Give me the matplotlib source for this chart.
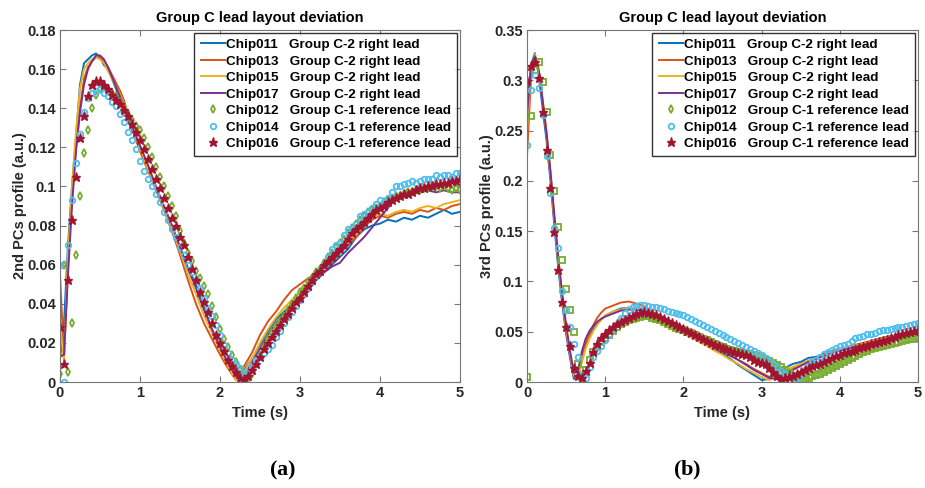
import numpy as np
import matplotlib
matplotlib.use("Agg")
import matplotlib.pyplot as plt
from matplotlib.lines import Line2D
from matplotlib.ticker import FuncFormatter

plt.rcParams['font.family'] = ['Liberation Sans', 'DejaVu Sans']
plt.rcParams['font.weight'] = 'bold'
plt.rcParams['mathtext.fontset'] = 'custom'
plt.rcParams['mathtext.rm'] = 'Liberation Serif'
plt.rcParams['mathtext.bf'] = 'Liberation Serif:bold'

# time bases (s): lines are sampled finer in the first second
t_line = np.round(np.concatenate([np.arange(0, 1.0001, 0.05), np.arange(1.1, 5.0001, 0.1)]), 2)
t_mark = np.round(np.arange(0, 5.0001, 0.05), 2)

labels = ['Chip011   Group C-2 right lead',
          'Chip013   Group C-2 right lead',
          'Chip015   Group C-2 right lead',
          'Chip017   Group C-2 right lead',
          'Chip012   Group C-1 reference lead',
          'Chip014   Group C-1 reference lead',
          'Chip016   Group C-1 reference lead']

c_blue = '#0072BD'
c_orange = '#D95319'
c_yellow = '#EDB120'
c_purple = '#7E2F8E'
c_green = '#77AC30'
c_cyan = '#4DBEEE'
c_red = '#A2142F'

########
## (a) 2nd PCs

a_chip011 = [0.012,0.030,0.070,0.100,0.125,0.152,0.163,0.165,0.167,0.168,0.166,
             0.162,0.160,0.155,0.150,0.144,0.139,0.134,0.129,0.124,0.119,
             0.109,0.099,0.089,0.079,0.068,0.058,0.050,0.038,0.027,0.018,
             0.009,0.002,0.006,0.012,0.019,0.026,0.032,0.036,0.040,0.044,
             0.048,0.052,0.056,0.060,0.064,0.068,0.074,0.078,0.080,0.081,
             0.083,0.082,0.084,0.083,0.085,0.084,0.086,0.088,0.086,0.087]
a_chip013 = [0.055,0.012,0.060,0.095,0.120,0.140,0.155,0.161,0.164,0.166,0.166,
             0.164,0.161,0.157,0.153,0.149,0.144,0.137,0.130,0.124,0.118,
             0.108,0.098,0.088,0.077,0.065,0.052,0.040,0.030,0.022,0.014,
             0.007,0.001,0.008,0.015,0.024,0.031,0.036,0.042,0.047,0.050,
             0.053,0.055,0.058,0.061,0.066,0.070,0.074,0.079,0.083,0.085,
             0.084,0.086,0.087,0.086,0.088,0.087,0.089,0.088,0.090,0.091]
a_chip015 = [0.030,0.010,0.065,0.100,0.128,0.150,0.160,0.163,0.165,0.166,0.165,
             0.163,0.159,0.155,0.151,0.147,0.142,0.136,0.130,0.125,0.120,
             0.109,0.099,0.089,0.078,0.067,0.055,0.045,0.034,0.025,0.016,
             0.008,0.001,0.005,0.012,0.020,0.027,0.033,0.038,0.042,0.046,
             0.050,0.054,0.058,0.062,0.067,0.071,0.076,0.081,0.084,0.086,
             0.085,0.087,0.088,0.087,0.089,0.090,0.089,0.091,0.092,0.093]
a_chip017 = [0.013,0.014,0.055,0.090,0.118,0.138,0.152,0.160,0.164,0.167,0.167,
             0.165,0.161,0.156,0.151,0.146,0.141,0.136,0.131,0.126,0.121,
             0.111,0.100,0.090,0.080,0.069,0.058,0.048,0.037,0.027,0.018,
             0.010,0.003,0.003,0.010,0.017,0.024,0.030,0.035,0.040,0.044,
             0.048,0.052,0.056,0.059,0.061,0.066,0.070,0.074,0.079,0.084,
             0.089,0.094,0.097,0.096,0.097,0.098,0.097,0.098,0.097,0.097]

a_chip012 = [0.004,0.060,0.005,0.030,0.065,0.095,0.117,0.129,0.140,0.147,
             0.150,0.151,0.150,0.148,0.146,0.143,0.140,0.137,0.134,0.131,
             0.129,0.125,0.120,0.115,0.110,0.105,0.100,0.095,0.090,0.085,
             0.077,0.071,0.066,0.062,0.057,0.053,0.049,0.045,0.039,0.033,
             0.027,0.022,0.018,0.014,0.010,0.006,0.003,0.001,0.004,0.009,
             0.014,0.018,0.022,0.025,0.028,0.031,0.034,0.037,0.040,0.043,
             0.046,0.048,0.051,0.053,0.056,0.058,0.061,0.064,0.066,0.069,
             0.071,0.073,0.076,0.079,0.081,0.083,0.085,0.087,0.088,0.089,
             0.090,0.092,0.093,0.094,0.095,0.095,0.096,0.097,0.097,0.098,
             0.098,0.099,0.099,0.100,0.100,0.099,0.100,0.099,0.098,0.099,
             0.098]
a_chip014 = [0.060,0.000,0.070,0.093,0.112,0.127,0.138,0.145,0.148,0.149,
             0.150,0.148,0.146,0.143,0.141,0.137,0.133,0.128,0.124,0.119,
             0.113,0.108,0.104,0.100,0.096,0.092,0.087,0.083,0.078,0.074,
             0.069,0.065,0.060,0.056,0.052,0.048,0.043,0.038,0.034,0.029,
             0.024,0.019,0.015,0.011,0.009,0.007,0.004,0.005,0.008,0.011,
             0.013,0.015,0.017,0.019,0.023,0.026,0.030,0.033,0.036,0.039,
             0.042,0.045,0.048,0.051,0.054,0.057,0.060,0.064,0.068,0.070,
             0.071,0.075,0.078,0.079,0.081,0.085,0.086,0.087,0.089,0.091,
             0.093,0.092,0.094,0.097,0.100,0.100,0.101,0.102,0.103,0.102,
             0.103,0.104,0.104,0.104,0.106,0.105,0.106,0.106,0.105,0.107,
             0.107]
a_chip016 = [0.028,0.009,0.052,0.083,0.105,0.125,0.136,0.146,0.152,0.154,
             0.154,0.152,0.150,0.147,0.144,0.142,0.139,0.136,0.132,0.128,
             0.124,0.119,0.114,0.109,0.104,0.099,0.094,0.089,0.084,0.080,
             0.074,0.070,0.064,0.058,0.052,0.046,0.041,0.036,0.030,0.024,
             0.020,0.016,0.011,0.008,0.005,0.002,0.001,0.003,0.006,0.009,
             0.013,0.017,0.020,0.023,0.026,0.029,0.032,0.035,0.038,0.041,
             0.043,0.046,0.049,0.052,0.055,0.057,0.060,0.062,0.064,0.066,
             0.068,0.070,0.073,0.076,0.078,0.080,0.082,0.084,0.086,0.088,
             0.089,0.090,0.092,0.093,0.094,0.095,0.096,0.096,0.097,0.098,
             0.099,0.099,0.100,0.100,0.101,0.101,0.102,0.102,0.103,0.103,
             0.104]

########
## (b) 3rd PCs

b_chip011 = [0.270,0.315,0.327,0.305,0.272,0.240,0.200,0.155,0.113,0.078,0.048,
             0.024,0.003,0.008,0.025,0.038,0.047,0.053,0.058,0.062,0.066,
             0.070,0.073,0.074,0.073,0.071,0.068,0.064,0.060,0.056,0.051,
             0.046,0.042,0.037,0.033,0.028,0.023,0.017,0.012,0.007,0.002,
             0.003,0.010,0.014,0.018,0.020,0.024,0.025,0.028,0.031,0.033,
             0.034,0.036,0.038,0.040,0.043,0.045,0.046,0.047,0.049,0.050]
b_chip013 = [0.225,0.300,0.322,0.308,0.278,0.245,0.205,0.160,0.118,0.082,0.052,
             0.027,0.005,0.006,0.022,0.037,0.048,0.057,0.064,0.069,0.073,
             0.076,0.079,0.080,0.078,0.075,0.070,0.065,0.060,0.055,0.051,
             0.047,0.043,0.039,0.035,0.031,0.027,0.022,0.018,0.013,0.009,
             0.005,0.003,0.008,0.014,0.018,0.021,0.024,0.027,0.030,0.032,
             0.035,0.037,0.039,0.041,0.043,0.045,0.046,0.048,0.049,0.051]
b_chip015 = [0.250,0.310,0.326,0.312,0.282,0.248,0.208,0.163,0.120,0.084,0.054,
             0.029,0.007,0.004,0.019,0.033,0.043,0.051,0.057,0.062,0.066,
             0.070,0.072,0.074,0.073,0.069,0.063,0.060,0.057,0.053,0.050,
             0.045,0.040,0.036,0.031,0.027,0.022,0.018,0.013,0.009,0.005,
             0.002,0.006,0.011,0.015,0.018,0.021,0.024,0.027,0.030,0.032,
             0.034,0.036,0.038,0.040,0.042,0.044,0.045,0.047,0.048,0.050]
b_chip017 = [0.265,0.312,0.324,0.310,0.280,0.248,0.210,0.166,0.124,0.088,0.057,
             0.031,0.009,0.010,0.030,0.043,0.051,0.056,0.060,0.063,0.065,
             0.068,0.071,0.072,0.072,0.070,0.067,0.064,0.059,0.055,0.050,
             0.046,0.042,0.038,0.034,0.030,0.026,0.022,0.017,0.012,0.008,
             0.004,0.003,0.008,0.012,0.016,0.020,0.023,0.026,0.029,0.031,
             0.033,0.035,0.037,0.039,0.041,0.043,0.044,0.046,0.047,0.048]

b_chip012 = [0.005,0.264,0.310,0.318,0.298,0.268,0.226,0.190,0.154,0.121,
             0.092,0.072,0.050,0.018,0.005,0.012,0.022,0.030,0.035,0.040,
             0.044,0.047,0.051,0.055,0.058,0.060,0.062,0.063,0.064,0.065,
             0.066,0.066,0.064,0.063,0.062,0.060,0.058,0.056,0.054,0.053,
             0.052,0.050,0.049,0.047,0.045,0.043,0.042,0.040,0.038,0.036,
             0.035,0.033,0.032,0.031,0.030,0.029,0.028,0.028,0.027,0.026,
             0.024,0.022,0.021,0.019,0.017,0.015,0.012,0.009,0.006,0.003,
             0.001,0.002,0.004,0.006,0.007,0.008,0.010,0.012,0.014,0.016,
             0.018,0.020,0.022,0.024,0.026,0.028,0.030,0.031,0.033,0.034,
             0.035,0.036,0.037,0.038,0.039,0.040,0.041,0.042,0.043,0.043,
             0.044]
b_chip014 = [0.236,0.290,0.305,0.292,0.265,0.225,0.188,0.153,0.133,0.090,
             0.072,0.055,0.038,0.025,0.008,0.004,0.015,0.025,0.031,0.036,
             0.042,0.048,0.053,0.058,0.064,0.069,0.072,0.075,0.076,0.077,
             0.077,0.076,0.075,0.075,0.074,0.073,0.071,0.070,0.069,0.068,
             0.067,0.065,0.063,0.061,0.059,0.057,0.055,0.053,0.051,0.049,
             0.047,0.045,0.043,0.041,0.039,0.037,0.035,0.033,0.031,0.029,
             0.027,0.024,0.021,0.018,0.015,0.011,0.008,0.005,0.003,0.004,
             0.008,0.012,0.016,0.020,0.022,0.025,0.028,0.030,0.032,0.034,
             0.036,0.037,0.038,0.041,0.044,0.045,0.046,0.048,0.048,0.049,
             0.051,0.052,0.052,0.053,0.054,0.055,0.055,0.056,0.057,0.058,
             0.059]
b_chip016 = [0.299,0.314,0.318,0.302,0.268,0.231,0.193,0.149,0.111,0.080,
             0.055,0.036,0.014,0.006,0.004,0.011,0.019,0.030,0.038,0.044,
             0.048,0.052,0.055,0.058,0.060,0.062,0.064,0.066,0.068,0.069,
             0.070,0.069,0.068,0.067,0.065,0.063,0.061,0.059,0.057,0.055,
             0.053,0.051,0.049,0.047,0.045,0.043,0.041,0.039,0.037,0.036,
             0.034,0.033,0.031,0.030,0.029,0.028,0.027,0.025,0.022,0.020,
             0.019,0.018,0.014,0.010,0.006,0.002,0.004,0.005,0.006,0.008,
             0.010,0.012,0.014,0.016,0.017,0.018,0.020,0.022,0.024,0.026,
             0.027,0.029,0.030,0.031,0.032,0.034,0.035,0.036,0.038,0.039,
             0.040,0.041,0.042,0.044,0.045,0.047,0.048,0.049,0.050,0.051,
             0.052]


def draw(ax, lines, marks, green_marker, ymax, ystep, ylabel):
    cols = [c_blue, c_orange, c_yellow, c_purple]
    handles = []
    for i in range(4):
        h, = ax.plot(t_line, lines[i], color=cols[i], lw=1.4)
        handles.append(h)
    ax.plot(t_mark, marks[0], ls='none', marker=green_marker, ms=3.8, mfc='none',
            mec=c_green, mew=1.3)
    h5, = ax.plot(t_mark, marks[1], ls='none', marker='o', ms=4, mfc='none',
                  mec=c_cyan, mew=1.3)
    h6, = ax.plot(t_mark, marks[2], ls='none', marker='*', ms=6.5, color=c_red)
    # legend shows a diamond for Chip012 in both panels
    h4 = Line2D([], [], ls='none', marker='d', ms=4, mfc='none', mec=c_green, mew=1.3)
    handles += [h4, h5, h6]

    ax.set_xlim(0, 5)
    ax.set_ylim(0, ymax)
    ax.set_xticks(range(6))
    ax.set_yticks(np.round(np.arange(0, ymax + 1e-9, ystep), 3))
    ax.yaxis.set_major_formatter(FuncFormatter(lambda v, p: '%g' % v))
    ax.tick_params(direction='in', top=True, right=True, length=4, width=0.8,
                   color='#777777', labelsize=10.5, labelcolor='#262626', pad=3)
    for s in ax.spines.values():
        s.set_color('#777777')
        s.set_linewidth(0.8)
    ax.set_xlabel('Time (s)', fontsize=10.5, fontweight='bold', labelpad=4, color='#262626')
    ax.set_ylabel(ylabel, fontsize=10.5, fontweight='bold', labelpad=0, color='#262626')
    ax.set_title('Group C lead layout deviation', fontsize=10.5, fontweight='bold', pad=6)

    leg = ax.legend(handles, labels, loc='upper right', fontsize=9.7, frameon=True,
                    fancybox=False, edgecolor='black', borderaxespad=0.2,
                    labelspacing=0.3, handlelength=1.8, handletextpad=0.1,
                    borderpad=0.45)
    leg.get_frame().set_linewidth(1.0)
    for txt in leg.get_texts():
        txt.set_fontweight('bold')


fig = plt.figure(figsize=(9.25, 4.88), dpi=100)
ax1 = fig.add_axes([60 / 925, 106 / 488, 400 / 925, 352 / 488])
ax2 = fig.add_axes([527 / 925, 106 / 488, 391 / 925, 352 / 488])

draw(ax1, [a_chip011, a_chip013, a_chip015, a_chip017],
     [a_chip012, a_chip014, a_chip016], 'd', 0.18, 0.02, '2nd PCs profile (a.u.)')
draw(ax2, [b_chip011, b_chip013, b_chip015, b_chip017],
     [b_chip012, b_chip014, b_chip016], 's', 0.35, 0.05, '3rd PCs profile (a.u.)')

fig.text(283 / 925, 1 - 470 / 488, r'$\mathrm{(}\mathbf{a}\mathrm{)}$', fontsize=16,
         ha='center', va='center')
fig.text(687 / 925, 1 - 470 / 488, r'$\mathrm{(}\mathbf{b}\mathrm{)}$', fontsize=16,
         ha='center', va='center')

fig.savefig('out.png', dpi=100)
